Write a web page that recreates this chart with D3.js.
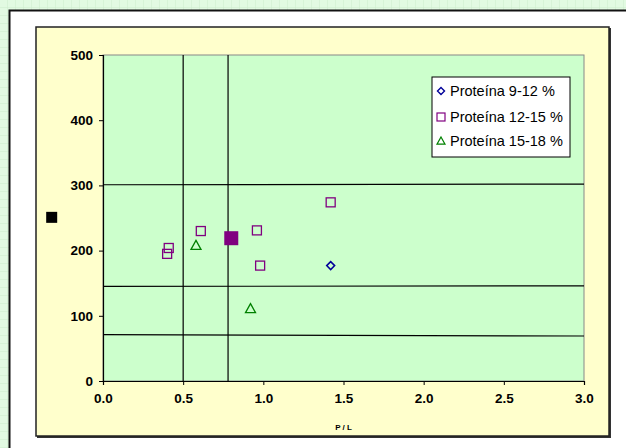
<!DOCTYPE html>
<html>
<head>
<meta charset="utf-8">
<script src="https://cdn.jsdelivr.net/npm/d3@7"></script>
<style>
  body { margin: 0; }
  svg { display: block; font-family: "Liberation Sans", Arial, sans-serif; }
</style>
</head>
<body>
<div id="chart"></div>
<script>
// P/L against value, one array per series
const serie912 = [{ x: 1.42, y: 177 }];
const serie1215 = [
    { x: 0.41, y: 204 }, { x: 0.40, y: 195 }, { x: 0.61, y: 230 },
    { x: 0.96, y: 231 }, { x: 0.98, y: 177 }, { x: 1.42, y: 274 }
];
const serie1518 = [{ x: 0.58, y: 208 }, { x: 0.92, y: 111 }];
const meanPoint = [{ x: 0.80, y: 219 }];
const refPoint = [{ x: -0.32, y: 251 }];

// reference lines
const vLines = [0.5, 0.78];
const hLines = [
    [{ x: 0, y: 301 }, { x: 3, y: 302 }],
    [{ x: 0, y: 145 }, { x: 3, y: 146 }],
    [{ x: 0, y: 71 }, { x: 3, y: 69 }]
];

const xTicks = [0, 0.5, 1, 1.5, 2, 2.5, 3];
const yTicks = [0, 100, 200, 300, 400, 500];
const legendLabels = ["Proteína 9-12 %", "Proteína 12-15 %", "Proteína 15-18 %"];

const width = 626, height = 448;
const margin = { top: 55, right: 42, bottom: 67, left: 103 };

const svg = d3.select('#chart').append('svg')
    .attr('width', width)
    .attr('height', height);

// faint green grid page background
const defs = svg.append('defs');
const pat = defs.append('pattern')
    .attr('id', 'grid').attr('width', 8).attr('height', 8)
    .attr('patternUnits', 'userSpaceOnUse');
pat.append('rect').attr('width', 8).attr('height', 8).attr('fill', '#e2fae2');
pat.append('path').attr('d', 'M8 0V8M0 8H8').attr('stroke', '#cdeccd').attr('stroke-width', 1);
svg.append('rect').attr('width', width).attr('height', height).attr('fill', 'url(#grid)');

// white frame
svg.append('rect')
    .attr('x', 9.5).attr('y', 10.5).attr('width', 640).attr('height', 460)
    .attr('fill', '#fff').attr('stroke', '#111').attr('stroke-width', 2);

// yellow chart area
svg.append('rect')
    .attr('x', 37).attr('y', 28).attr('width', 574).attr('height', 410)
    .attr('fill', '#333');
svg.append('rect')
    .attr('x', 36).attr('y', 27).attr('width', 573).attr('height', 409)
    .attr('fill', '#ffffcc').attr('stroke', '#222').attr('stroke-width', 1.5);

const viz = svg.append('g').attr('transform', `translate(${margin.left},${margin.top})`);

const x = d3.scaleLinear().domain([0, 3]).range([0, 481]);
const y = d3.scaleLinear().domain([0, 500]).range([326, 0]);

viz.append('rect')
    .attr('width', x(3)).attr('height', y(0))
    .attr('fill', '#ccffcc').attr('stroke', '#888').attr('stroke-width', 1);

// reference lines
viz.selectAll('.vline').data(vLines).join('line')
    .attr('x1', d => x(d)).attr('x2', d => x(d))
    .attr('y1', y(0)).attr('y2', y(500))
    .attr('stroke', '#000').attr('stroke-width', 1.2);

const line = d3.line().x(d => x(d.x)).y(d => y(d.y));
viz.selectAll('.hline').data(hLines).join('path')
    .attr('d', line).attr('fill', 'none')
    .attr('stroke', '#000').attr('stroke-width', 1.2);

// axes
const xAxis = viz.append('g').attr('transform', `translate(0,${y(0)})`)
    .call(d3.axisBottom(x).tickValues(xTicks).tickFormat(d3.format('.1f')).tickSize(4).tickPadding(8));
const yAxis = viz.append('g')
    .call(d3.axisLeft(y).tickValues(yTicks).tickSize(4).tickPadding(6));
[xAxis, yAxis].forEach(a => {
    a.select('.domain').attr('stroke', '#000').attr('stroke-width', 1.2);
    a.selectAll('.tick line').attr('stroke', '#000');
    a.selectAll('text').attr('font-family', '"Liberation Sans", Arial, sans-serif')
        .attr('font-size', 13.5).attr('font-weight', 'bold').attr('fill', '#000');
});

svg.append('text')
    .attr('x', margin.left + x(1.5)).attr('y', 430)
    .attr('text-anchor', 'middle').attr('font-size', 8).attr('font-weight', 'bold')
    .text('P / L');

// markers
const diamond = (cx, cy, r) => `M${cx},${cy - r}L${cx + r},${cy}L${cx},${cy + r}L${cx - r},${cy}Z`;
const triangle = (cx, cy, r) => `M${cx},${cy - r}L${cx + r},${cy + r * 0.8}L${cx - r},${cy + r * 0.8}Z`;

viz.selectAll('.s912').data(serie912).join('path')
    .attr('d', d => diamond(x(d.x), y(d.y), 4))
    .attr('fill', 'none').attr('stroke', '#000099').attr('stroke-width', 1.5);

viz.selectAll('.s1215').data(serie1215).join('rect')
    .attr('x', d => x(d.x) - 4.5).attr('y', d => y(d.y) - 4.5)
    .attr('width', 9).attr('height', 9)
    .attr('fill', 'none').attr('stroke', '#800080').attr('stroke-width', 1.3);

viz.selectAll('.s1518').data(serie1518).join('path')
    .attr('d', d => triangle(x(d.x), y(d.y), 5))
    .attr('fill', 'none').attr('stroke', '#008000').attr('stroke-width', 1.3);

viz.selectAll('.mean').data(meanPoint).join('rect')
    .attr('x', d => x(d.x) - 7).attr('y', d => y(d.y) - 7)
    .attr('width', 14).attr('height', 14).attr('fill', '#800080');

viz.selectAll('.ref').data(refPoint).join('rect')
    .attr('x', d => x(d.x) - 5.5).attr('y', d => y(d.y) - 5.5)
    .attr('width', 11).attr('height', 11).attr('fill', '#000');

// legend
const legend = svg.append('g').attr('transform', 'translate(432,77)');
legend.append('rect').attr('width', 138).attr('height', 80)
    .attr('fill', '#fff').attr('stroke', '#000').attr('stroke-width', 1);
const rowY = [14, 40, 64];
legendLabels.forEach((lab, i) => {
    const g = legend.append('g').attr('transform', `translate(0,${rowY[i]})`);
    if (i === 0) g.append('path').attr('d', diamond(9, 0, 3.5))
        .attr('fill', 'none').attr('stroke', '#000099').attr('stroke-width', 1.4);
    if (i === 1) g.append('rect').attr('x', 5).attr('y', -4).attr('width', 8).attr('height', 8)
        .attr('fill', 'none').attr('stroke', '#800080').attr('stroke-width', 1.2);
    if (i === 2) g.append('path').attr('d', triangle(9, 0, 4))
        .attr('fill', 'none').attr('stroke', '#008000').attr('stroke-width', 1.2);
    g.append('text').attr('x', 18).attr('y', 5)
        .attr('font-size', 14.5).attr('fill', '#000').text(lab);
});
</script>
</body>
</html>
